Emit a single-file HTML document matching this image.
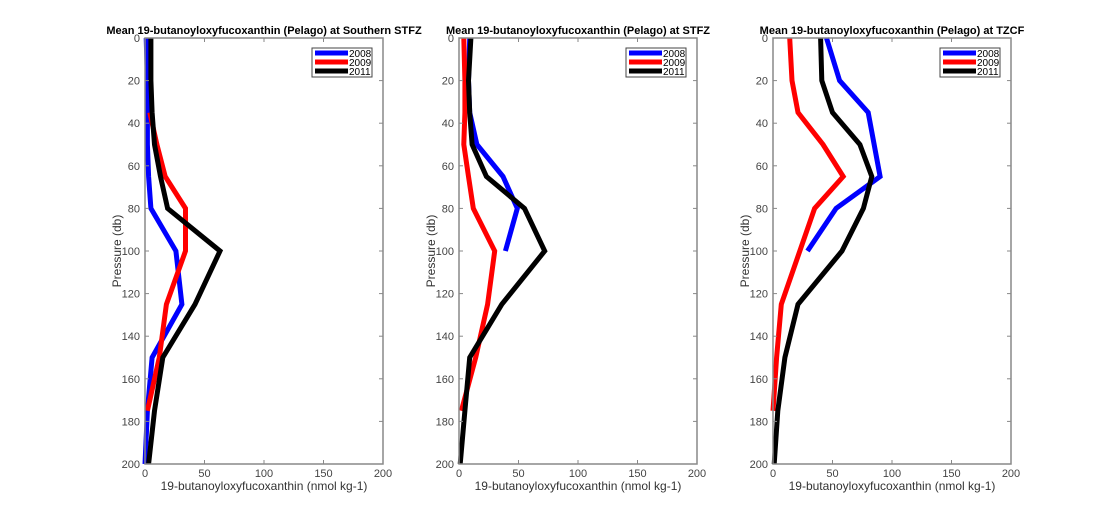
<!DOCTYPE html>
<html><head><meta charset="utf-8"><style>
body{margin:0;background:#fff;}
svg{display:block;font-family:"Liberation Sans",sans-serif;}
</style></head><body>
<svg id="chart" width="1118" height="521" viewBox="0 0 1118 521"></svg>
<script>
const pressures2008 = [0,20,35,50,65,80,100,125,150,175,200];
const p1Blue = [1,2,2,2,3,5,26,31,6,2,0];
const p1RedP = [35,50,65,80,100,125,150,175];
const p1Red = [4,10,17,34,34,18,12,2];
const p1BlackP = [0,20,35,50,65,80,100,125,150,175,200];
const p1Black = [5,5,6,8,13,19,63,42,15,8,3];
const p2BlueP = [0,20,35,50,65,80,100];
const p2Blue = [9,8,9,15,37,49,39];
const p2RedP = [0,20,35,50,65,80,100,125,150,175];
const p2Red = [4,5,5,4,8,12,30,24,14,2];
const p2BlackP = [0,20,35,50,65,80,100,125,150,175,200];
const p2Black = [10,8,9,11,23,55,72,36,9,5,1];
const p3BlueP = [0,20,35,65,80,100];
const p3Blue = [45,56,80,90,53,29];
const p3RedP = [0,20,35,50,65,80,125,150,175];
const p3Red = [14,16,21,42,59,35,7,3,0];
const p3BlackP = [0,20,35,50,65,80,100,125,150,175,200];
const p3Black = [40,41,50,73,83,76,58,21,10,4,1];
const xTicks = [0,50,100,150,200];
const yTicks = [0,20,40,60,80,100,120,140,160,180,200];
const years = ["2008","2009","2011"];
const titles = ["Mean 19-butanoyloxyfucoxanthin (Pelago) at Southern STFZ","Mean 19-butanoyloxyfucoxanthin (Pelago) at STFZ","Mean 19-butanoyloxyfucoxanthin (Pelago) at TZCF"];
const panels = [
 {left:145, series:[[pressures2008,p1Blue],[p1RedP,p1Red],[p1BlackP,p1Black]]},
 {left:459, series:[[p2BlueP,p2Blue],[p2RedP,p2Red],[p2BlackP,p2Black]]},
 {left:773, series:[[p3BlueP,p3Blue],[p3RedP,p3Red],[p3BlackP,p3Black]]}
];
const colors=["#0000ff","#ff0000","#000000"];
const NS="http://www.w3.org/2000/svg";
const svg=document.getElementById('chart');
function mk(tag,attrs,parent){const e=document.createElementNS(NS,tag);for(const k in attrs)e.setAttribute(k,attrs[k]);(parent||svg).appendChild(e);return e;}
const W=238, axTop=38, H=426;
panels.forEach((p,pi)=>{
  const g=mk('g',{});
  
  
  const x=v=>p.left+v/200*W, y=v=>axTop+v/200*H;
  p.series.forEach((s,si)=>{
    const pts=s[0].map((pp,i)=>x(s[1][i]).toFixed(1)+','+y(pp).toFixed(1)).join(' ');
    const l=mk('polyline',{points:pts,fill:'none',stroke:colors[si],'stroke-width':5,'stroke-linejoin':'miter','stroke-miterlimit':3},g);
    
    
  });
  const box=mk('rect',{x:p.left,y:axTop,width:W,height:H,fill:'none',stroke:'#888','stroke-width':1.5},g);
  
  
  xTicks.forEach(t=>{
    mk('line',{x1:x(t),x2:x(t),y1:axTop+H,y2:axTop+H-4,stroke:'#888'},g);
    mk('line',{x1:x(t),x2:x(t),y1:axTop,y2:axTop+4,stroke:'#888'},g);
    const tx=mk('text',{x:x(t),y:axTop+H+13,'font-size':11,fill:'#444','text-anchor':'middle'},g);
    tx.textContent=t;
    
    
  });
  yTicks.forEach(t=>{
    mk('line',{x1:p.left,x2:p.left+4,y1:y(t),y2:y(t),stroke:'#888'},g);
    mk('line',{x1:p.left+W,x2:p.left+W-4,y1:y(t),y2:y(t),stroke:'#888'},g);
    const tx=mk('text',{x:p.left-5,y:y(t)+4,'font-size':11,fill:'#444','text-anchor':'end'},g);
    tx.textContent=t;
    
    
  });
  const xl=mk('text',{x:p.left+W/2,y:axTop+H+26,'font-size':12,fill:'#333','text-anchor':'middle'},g);
  xl.textContent='19-butanoyloxyfucoxanthin (nmol kg-1)';
  
  
  const yl=mk('text',{x:0,y:0,'font-size':12,fill:'#333','text-anchor':'middle',transform:`translate(${p.left-24},${axTop+H/2}) rotate(-90)`},g);
  yl.textContent='Pressure (db)';
  
  
  const ti=mk('text',{x:p.left+W/2,y:axTop-4,'font-size':11,'font-weight':'bold',fill:'#000','text-anchor':'middle'},g);
  ti.textContent=titles[pi];
  
  
  const lg=mk('g',{},g);
  
  
  const lx=p.left+167;
  mk('rect',{x:lx,y:48,width:60,height:29,fill:'#fff',stroke:'#444','stroke-width':1},lg);
  years.forEach((yr,i)=>{
    const e=mk('line',{x1:lx+3,x2:lx+36,y1:53+i*9,y2:53+i*9,stroke:colors[i],'stroke-width':5},lg);
    
    
    const t=mk('text',{x:lx+37,y:57+i*9,'font-size':10,fill:'#000'},lg);
    t.textContent=yr;
    
    
  });
});
</script>
</body></html>
